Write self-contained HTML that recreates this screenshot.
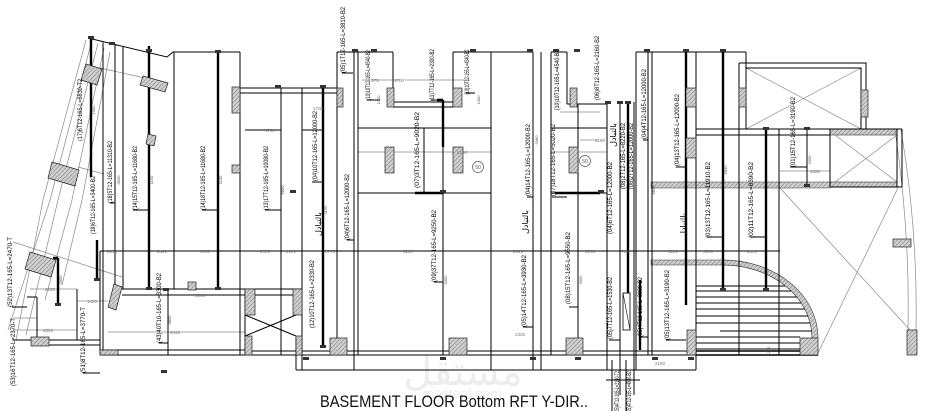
<!DOCTYPE html>
<html><head><meta charset="utf-8"><style>
html,body{margin:0;padding:0;background:#fff;}
svg{display:block;}
</style></head><body>
<svg width="927" height="411" viewBox="0 0 927 411" xmlns="http://www.w3.org/2000/svg">
<defs>
<pattern id="h" width="3" height="3" patternUnits="userSpaceOnUse" patternTransform="rotate(45)">
<rect width="3" height="3" fill="#cfcfcf"/><line x1="0" y1="0" x2="0" y2="3" stroke="#7a7a7a" stroke-width="1"/>
</pattern>
</defs>
<rect width="927" height="411" fill="#fff"/>
<!-- watermark -->
<text x="463" y="385" font-family="DejaVu Sans, sans-serif" font-size="40" fill="#ededed" text-anchor="middle">مستقل</text>
<text x="462" y="398" font-family="Liberation Sans, sans-serif" font-size="14" fill="#eeeeee" text-anchor="middle">mostaql.com</text>

<!-- grey bands & arc -->
<rect x="651" y="182" width="179" height="6" fill="url(#h)" stroke="#555" stroke-width="0.6"/>
<rect x="651" y="260" width="72" height="5" fill="url(#h)" stroke="#555" stroke-width="0.6"/>
<path d="M723 262.5 A92 76 0 0 1 815 338" fill="none" stroke="url(#h)" stroke-width="5"/>
<path d="M723 260 A95 78 0 0 1 818 338 M723 265 A89 73 0 0 1 812 338" fill="none" stroke="#444" stroke-width="0.7"/>
<rect x="830" y="129" width="67" height="6" fill="url(#h)" stroke="#333" stroke-width="0.6"/>
<rect x="830" y="182" width="67" height="5" fill="url(#h)" stroke="#333" stroke-width="0.6"/>

<!-- grey thin lines -->
<path d="M358 152H491 M551 152H607 M746 68L861 129 M861 68L746 129 M835 135L897 182 M897 135L835 182 M780 188L910 330 M898 188L818 353 M895 130Q910 230 908 330 M901 130Q918 230 916 330 M86 40L43 200L16 340 M98 43L58 200L26 335 M104 48L72 200L45 300 M110 52L82 200L62 285 M92 40L50 200L8 330 M100 68L168 83 M78 167L104 174 M13 242L122 277 M108 332H245 M30 289H77 M77 301H108 M13 330H77 M13 318H37 M387 152H453 M596 152H607 M580 140H598 M362 80H400 M405 80H470 M560 112H600 M780 171H830" fill="none" stroke="#8a8a8a" stroke-width="0.7"/>

<!-- main thin structure -->
<path d="M88 38L167 57L173 52L240 52 M103 41V350 M100 251V355 M115 44V289 M123 46V289 M174 52V289 M240 52V355 M245 289V355 M232 88H337 M240 93H337 M281 88V355 M302 88V370 M296 337V370 M337 52V355 M354 52V370 M358 52V355 M337 52H393 M393 52V107 M393 102H453 M393 107H453 M453 52V107 M453 52H533 M358 128H491 M358 193H491 M424 128V193 M443 100V355 M491 52V370 M533 52V370 M541 52V370 M551 52H567 M551 52V355 M567 52V104 M567 104H607 M551 128H607 M551 193H607 M578 104V355 M607 104V370 M620 102V395 M634 102V395 M636 52V370 M636 52H746 M648 52V355 M652 52V355 M696 52V370 M739 63V355 M746 52V129 M739 63H866V129 M746 68H861V129 M696 129H902 M696 135H830 M779 129V355 M830 129H897V187H830Z M902 129V187 M830 187H902 M807 129V187 M100 251H780 M122 289H302 M122 295H302 M100 350H245 M100 355H818 M245 351H818 M296 370H696 M13 340H100 M40 345H100 M77 289V340 M37 297V337 M27 297H37 M168 289V355 M245 315L296 336 M245 336L296 315 M606 380H640 M612 360V411 M626 360V411 M245 130H281 M302 130H323" fill="none" stroke="#000" stroke-width="1"/>

<!-- stairs -->
<path d="M696 286H785 M696 291H791 M696 297H797 M696 303H801 M696 309H805 M696 316H808 M696 323H810 M720 331H812 M696 337H800 M696 343H800 M696 349H800" fill="none" stroke="#000" stroke-width="1"/>
<path d="M696 351H818 M696 355H818" stroke="#000" stroke-width="1.6"/>

<!-- thick rebars -->
<path d="M91 38V177 M149 46V289 M218 52V289 M323 88V347 M686 52V305 M723 52V290 M766 129V290 M628 102V293 M58 258V305 M53 258H58 M97 240V280 M443 100V147 M437 100H443 M555 193H600 M415 193H443 M640 280V350" fill="none" stroke="#000" stroke-width="2.4"/>

<!-- hooks -->
<path d="M133 210H149 M202 210H218 M265 210H281 M312 182H323 M110 203H115 M347 240H354 M342 73H353 M367 100H380 M431 100H437 M466 93H475 M527 197H533 M552 197H567 M569 307H578 M434 282H443 M523 327H533 M643 140H648 M676 167H686 M790 167H807 M707 237H723 M750 237H766 M666 340H686 M159 343H168 M83 373H100 M12 307H27 M609 340H620 M639 337H648" fill="none" stroke="#000" stroke-width="1"/>

<!-- hatched columns -->
<g fill="url(#h)" stroke="#222" stroke-width="0.7">
<polygon points="86,64 102,69 97,85 81,80"/>
<polygon points="143,76 168,83 165,92 140,85"/>
<polygon points="52,162 79,170 75,186 48,178"/>
<polygon points="30,252 56,260 51,277 25,269"/>
<polygon points="114,284 122,287 116,310 108,307"/>
<polygon points="148,134 156,136 154,146 146,144"/>
<rect x="31" y="337" width="18" height="9"/>
<rect x="100" y="350" width="18" height="5"/>
<rect x="232" y="87" width="8" height="26"/>
<rect x="232" y="165" width="8" height="8"/>
<rect x="245" y="289" width="10" height="26"/>
<rect x="245" y="336" width="7" height="19"/>
<rect x="293" y="289" width="9" height="26"/>
<rect x="296" y="336" width="6" height="19"/>
<rect x="337" y="88" width="6" height="19"/>
<rect x="387" y="88" width="7" height="19"/>
<rect x="453" y="88" width="9" height="19"/>
<rect x="385" y="147" width="9" height="26"/>
<rect x="453" y="147" width="10" height="26"/>
<rect x="570" y="88" width="7" height="19"/>
<rect x="569" y="147" width="9" height="26"/>
<rect x="686" y="88" width="10" height="19"/>
<rect x="686" y="138" width="10" height="20"/>
<rect x="739" y="88" width="7" height="19"/>
<rect x="861" y="90" width="7" height="27"/>
<rect x="330" y="338" width="17" height="17"/>
<rect x="449" y="338" width="18" height="17"/>
<rect x="566" y="338" width="17" height="17"/>
<rect x="687" y="330" width="9" height="25"/>
<rect x="800" y="338" width="18" height="17"/>
<rect x="893" y="239" width="18" height="8"/>
<rect x="907" y="330" width="10" height="25"/>
<rect x="188" y="282" width="8" height="8"/>
</g>
<rect x="623" y="293" width="7" height="37" fill="#fff" stroke="#000" stroke-width="0.8"/>
<path d="M623 293L630 330" stroke="#000" stroke-width="0.6"/>

<!-- rebar tags -->
<g fill="#333">
<rect x="88" y="36" width="6" height="3"/><rect x="109" y="42" width="6" height="3"/><rect x="146" y="49" width="6" height="3"/>
<rect x="215" y="50" width="6" height="3"/><rect x="275" y="85" width="6" height="3"/><rect x="320" y="85" width="6" height="3"/>
<rect x="352" y="49" width="6" height="3"/><rect x="371" y="49" width="6" height="3"/><rect x="470" y="49" width="6" height="3"/>
<rect x="527" y="49" width="6" height="3"/><rect x="553" y="49" width="6" height="3"/><rect x="574" y="49" width="6" height="3"/>
<rect x="605" y="101" width="6" height="3"/><rect x="617" y="101" width="6" height="3"/><rect x="625" y="101" width="6" height="3"/>
<rect x="644" y="49" width="6" height="3"/><rect x="683" y="49" width="6" height="3"/><rect x="720" y="49" width="6" height="3"/>
<rect x="763" y="127" width="6" height="3"/><rect x="804" y="127" width="6" height="3"/><rect x="146" y="287" width="6" height="3"/>
<rect x="215" y="287" width="6" height="3"/><rect x="320" y="345" width="6" height="3"/><rect x="163" y="288" width="6" height="3"/>
<rect x="290" y="190" width="6" height="3"/><rect x="440" y="190" width="6" height="3"/><rect x="598" y="190" width="6" height="3"/>
<rect x="720" y="288" width="6" height="3"/><rect x="763" y="288" width="6" height="3"/><rect x="55" y="303" width="6" height="3"/>
<rect x="94" y="278" width="6" height="3"/><rect x="161" y="370" width="6" height="3"/><rect x="303" y="357" width="6" height="3"/>
<rect x="440" y="357" width="6" height="3"/><rect x="530" y="357" width="6" height="3"/><rect x="575" y="357" width="6" height="3"/>
<rect x="688" y="357" width="6" height="3"/><rect x="652" y="357" width="6" height="3"/>
<rect x="804" y="184" width="6" height="3"/>
</g>

<!-- circles -->
<circle cx="478" cy="167" r="5.5" fill="none" stroke="#555" stroke-width="0.7"/>
<circle cx="585" cy="161" r="5.5" fill="none" stroke="#555" stroke-width="0.7"/>
<text x="478" y="169" font-family="Liberation Sans, sans-serif" font-size="5" fill="#555" text-anchor="middle">50</text>
<text x="585" y="163" font-family="Liberation Sans, sans-serif" font-size="5" fill="#555" text-anchor="middle">50</text>

<!-- rebar labels -->
<g font-family="Liberation Sans, sans-serif" font-size="6" fill="#000" text-anchor="middle">
<text transform="translate(82,110) rotate(-90)" textLength="62" lengthAdjust="spacingAndGlyphs">(17)6T12-165-L=6830-T2</text>
<text transform="translate(95,205) rotate(-90)" textLength="58" lengthAdjust="spacingAndGlyphs">(19)6T12-165-L=3400-B2</text>
<text transform="translate(112,172) rotate(-90)" textLength="62" lengthAdjust="spacingAndGlyphs">(18)5T12-165-L=11310-B2</text>
<text transform="translate(137,178) rotate(-90)" textLength="64" lengthAdjust="spacingAndGlyphs">(14)15T12-165-L=11680-B2</text>
<text transform="translate(205,178) rotate(-90)" textLength="64" lengthAdjust="spacingAndGlyphs">(14)18T12-165-L=11680-B2</text>
<text transform="translate(268,178) rotate(-90)" textLength="64" lengthAdjust="spacingAndGlyphs">(13)17T12-165-L=10080-B2</text>
<text transform="translate(317,146) rotate(-90)" textLength="70" lengthAdjust="spacingAndGlyphs">(04)10T12-165-L=12000-B2</text>
<text transform="translate(349,207) rotate(-90)" textLength="66" lengthAdjust="spacingAndGlyphs">(04)6T12-165-L=12000-B2</text>
<text transform="translate(345,40) rotate(-90)" textLength="66" lengthAdjust="spacingAndGlyphs">(05)1T12-165-L=3810-B2</text>
<text transform="translate(370,75) rotate(-90)" textLength="50" lengthAdjust="spacingAndGlyphs">(10)10T12-165-L=4540-B2</text>
<text transform="translate(434,75) rotate(-90)" textLength="52" lengthAdjust="spacingAndGlyphs">(11)7T12-165-L=2300-B2</text>
<text transform="translate(469,72) rotate(-90)" textLength="45" lengthAdjust="spacingAndGlyphs">(10)10T12-165-L=4540-B2</text>
<text transform="translate(419,150) rotate(-90)" textLength="76" lengthAdjust="spacingAndGlyphs">(07)3T12-165-L=9020-B2</text>
<text transform="translate(436,246) rotate(-90)" textLength="72" lengthAdjust="spacingAndGlyphs">(09)37T12-165-L=9250-B2</text>
<text transform="translate(526,291) rotate(-90)" textLength="72" lengthAdjust="spacingAndGlyphs">(05)14T12-165-L=3930-B2</text>
<text transform="translate(530,160) rotate(-90)" textLength="72" lengthAdjust="spacingAndGlyphs">(04)14T12-165-L=12000-B2</text>
<text transform="translate(559,80) rotate(-90)" textLength="60" lengthAdjust="spacingAndGlyphs">(10)10T12-165-L=4540-B2</text>
<text transform="translate(555,160) rotate(-90)" textLength="72" lengthAdjust="spacingAndGlyphs">(07)18T12-165-L=5020-B2</text>
<text transform="translate(599,68) rotate(-90)" textLength="64" lengthAdjust="spacingAndGlyphs">(06)8T12-165-L=2160-B2</text>
<text transform="translate(570,268) rotate(-90)" textLength="72" lengthAdjust="spacingAndGlyphs">(08)15T12-165-L=9550-B2</text>
<text transform="translate(646,104) rotate(-90)" textLength="70" lengthAdjust="spacingAndGlyphs">(04)4T12-165-L=12000-B2</text>
<text transform="translate(679,130) rotate(-90)" textLength="72" lengthAdjust="spacingAndGlyphs">(04)13T12-165-L=12000-B2</text>
<text transform="translate(625,156) rotate(-90)" textLength="66" lengthAdjust="spacingAndGlyphs">(08)2T12-165-L=8220-B2</text>
<text transform="translate(633,156) rotate(-90)" textLength="66" lengthAdjust="spacingAndGlyphs">(08)2T12-165-L=12000-B2</text>
<text transform="translate(612,198) rotate(-90)" textLength="72" lengthAdjust="spacingAndGlyphs">(04)6T12-165-L=12000-B2</text>
<text transform="translate(612,308) rotate(-90)" textLength="62" lengthAdjust="spacingAndGlyphs">(05)7T12-165-L=1530-B2</text>
<text transform="translate(642,307) rotate(-90)" textLength="60" lengthAdjust="spacingAndGlyphs">(05)4T12-165-L=3930-B2</text>
<text transform="translate(795,132) rotate(-90)" textLength="70" lengthAdjust="spacingAndGlyphs">(01)15T12-165-L=3190-B2</text>
<text transform="translate(710,200) rotate(-90)" textLength="76" lengthAdjust="spacingAndGlyphs">(03)13T12-165-L=11910-B2</text>
<text transform="translate(753,200) rotate(-90)" textLength="76" lengthAdjust="spacingAndGlyphs">(02)11T12-165-L=8390-B2</text>
<text transform="translate(669,305) rotate(-90)" textLength="70" lengthAdjust="spacingAndGlyphs">(05)13T12-165-L=3190-B2</text>
<text transform="translate(314,294) rotate(-90)" textLength="68" lengthAdjust="spacingAndGlyphs">(12)10T12-165-L=2330-B2</text>
<text transform="translate(161,308) rotate(-90)" textLength="70" lengthAdjust="spacingAndGlyphs">(43)40T10-165-L=3300-B2</text>
<text transform="translate(12,272) rotate(-90)" textLength="70" lengthAdjust="spacingAndGlyphs">(52)13T12-165-L=2470-T</text>
<text transform="translate(15,352) rotate(-90)" textLength="68" lengthAdjust="spacingAndGlyphs">(53)16T12-165-L=2370-T</text>
<text transform="translate(85,340) rotate(-90)" textLength="66" lengthAdjust="spacingAndGlyphs">(51)8T12-165-L=3770-T</text>
<text transform="translate(619,392) rotate(-90)" textLength="42" lengthAdjust="spacingAndGlyphs">(05)4T12-165-L=2140-T2</text>
<text transform="translate(631,392) rotate(-90)" textLength="42" lengthAdjust="spacingAndGlyphs">(05)4T12-165-L=4980-B2</text>
</g>

<!-- arabic -->
<g font-family="DejaVu Sans, sans-serif" font-size="8" fill="#000" text-anchor="middle">
<text transform="translate(321,224) rotate(-90)">بالتبادل</text>
<text transform="translate(528,222) rotate(-90)">بالتبادل</text>
<text transform="translate(616,135) rotate(-90)">بالتبادل</text>
<text transform="translate(686,225) rotate(-90)">بالتبادل</text>
</g>

<!-- small dimension numbers -->
<g font-family="Liberation Sans, sans-serif" font-size="4.5" fill="#777" text-anchor="middle">
<text x="112" y="253">3950</text><text x="162" y="253">2420</text><text x="205" y="253">3060</text>
<text x="265" y="253">2835</text><text x="291" y="253">1980</text><text x="330" y="253">3775</text>
<text x="408" y="253">6290</text><text x="518" y="253">2325</text><text x="590" y="253">3060</text>
<text x="625" y="253">700</text><text x="673" y="253">5180</text><text x="708" y="253">6340</text>
<text x="752" y="253">2440</text><text x="175" y="334">6345</text><text x="48" y="332">2545</text>
<text x="50" y="291">2230</text><text x="92" y="303">1420</text><text x="520" y="336">2325</text>
<text x="375" y="82">375</text><text x="399" y="82">1700</text><text x="462" y="154">6150</text>
<text x="318" y="110">1700</text><text x="600" y="142">2190</text><text x="815" y="173">2520</text>
<text x="270" y="132">1700</text><text x="200" y="297">3260</text><text x="660" y="365">2180</text>
</g>
<g font-family="Liberation Sans, sans-serif" font-size="4" fill="#555" text-anchor="middle">
<text transform="translate(95,110) rotate(-90)">1000</text>
<text transform="translate(120,180) rotate(-90)">5830</text>
<text transform="translate(153,180) rotate(-90)">1150</text>
<text transform="translate(222,180) rotate(-90)">1150</text>
<text transform="translate(284,190) rotate(-90)">5830</text>
<text transform="translate(327,210) rotate(-90)">1150</text>
<text transform="translate(447,280) rotate(-90)">9000</text>
<text transform="translate(582,280) rotate(-90)">9000</text>
<text transform="translate(538,140) rotate(-90)">5980</text>
<text transform="translate(655,190) rotate(-90)">5830</text>
<text transform="translate(727,170) rotate(-90)">5830</text>
<text transform="translate(770,350) rotate(-90)">250</text>
<text transform="translate(62,280) rotate(-90)">2050</text>
<text transform="translate(171,320) rotate(-90)">3800</text>
<text transform="translate(380,100) rotate(-90)">1000</text>
<text transform="translate(480,100) rotate(-90)">1000</text>
<text transform="translate(811,160) rotate(-90)">2000</text>
</g>

<!-- title -->
<text x="320" y="407" font-family="Liberation Sans, sans-serif" font-size="16.5" fill="#111" textLength="268" lengthAdjust="spacingAndGlyphs">BASEMENT FLOOR Bottom RFT Y-DIR..</text>
</svg>
</body></html>
